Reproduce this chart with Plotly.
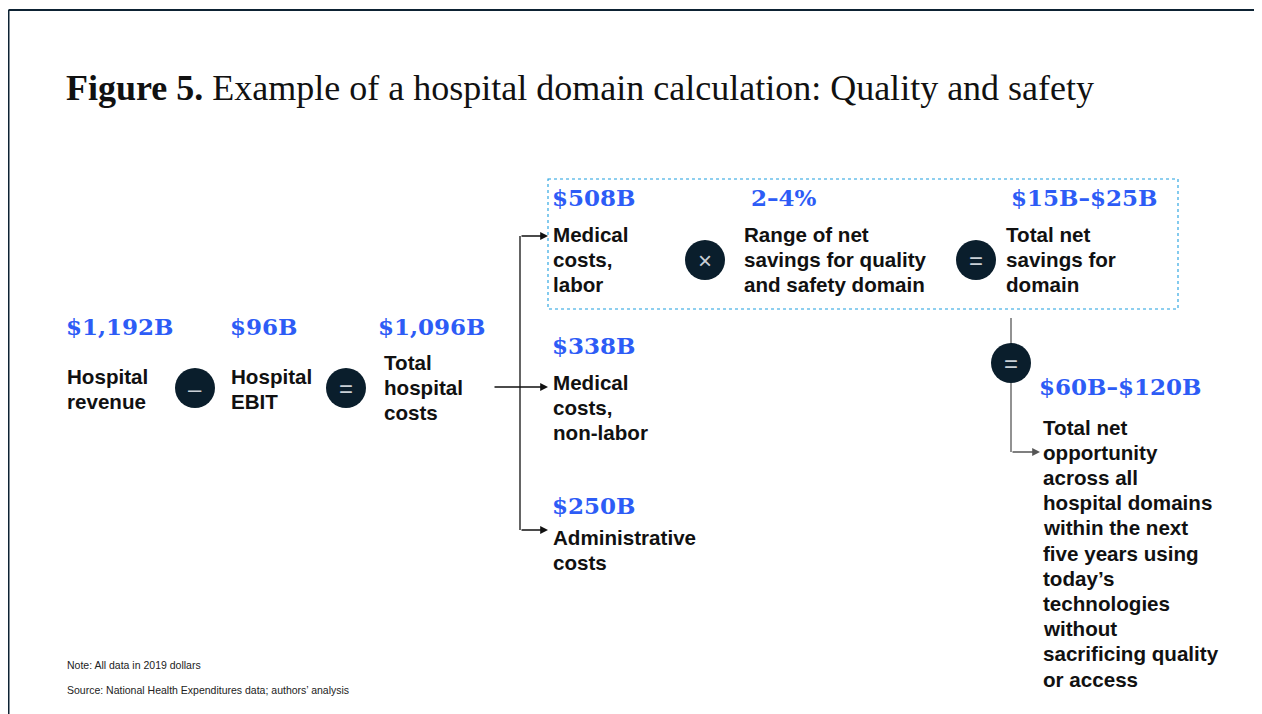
import plotly.graph_objects as go

W, H = 1262, 714
OFF = 8  # page body margin in the browser

# ---- content (data) ----
title_bold = "Figure 5."
title_rest = "Example of a hospital domain calculation: Quality and safety"

values = ["$1,192B", "$96B", "$1,096B", "$508B", "2–4%", "$15B–$25B",
          "$338B", "$250B", "$60B–$120B"]
labels = [
    ["Hospital", "revenue"],
    ["Hospital", "EBIT"],
    ["Total", "hospital", "costs"],
    ["Medical", "costs,", "labor"],
    ["Range of net", "savings for quality", "and safety domain"],
    ["Total net", "savings for", "domain"],
    ["Medical", "costs,", "non-labor"],
    ["Administrative", "costs"],
    ["Total net", "opportunity", "across all", "hospital domains", "within the next",
     "five years using", "today’s", "technologies", "without",
     "sacrificing quality", "or access"],
]
operators = ["–", "=", "×", "=", "="]
notes = ["Note: All data in 2019 dollars",
         "Source: National Health Expenditures data; authors’ analysis"]

# ---- layout (positions in page px) ----
value_pos = [(64, 326), (228, 326), (376, 326), (550, 197), (749, 197), (1009, 197),
             (550, 345), (550, 505), (1037, 386)]
label_pos = [(65, 376), (229, 376), (382, 362), (551, 234), (742, 234), (1004, 234),
             (551, 382), (551, 537), (1041, 427)]
op_pos = [(195, 388), (346, 388), (705, 260), (976, 260), (1011, 363)]
note_pos = [(65, 665), (65, 690)]
LINE = 25.2
R = 20

BLUE = "#2d5cf6"
NAVY = "#0a1e2c"
SANS = "Liberation Sans, Arial, sans-serif"
SERIF = "DejaVu Serif, serif"

fig = go.Figure()
shapes = []
ann = []

# frame
shapes.append(dict(type="line", x0=8.5, y0=10, x1=W, y1=10, line=dict(color="#0d2233", width=2)))
shapes.append(dict(type="line", x0=8.5, y0=10, x1=8.5, y1=H, line=dict(color="#0d2233", width=2)))

# dashed box
shapes.append(dict(type="rect", x0=548, y0=179, x1=1178, y1=309,
                   line=dict(color="#1fa0e0", width=1.1, dash="dot")))

# connectors
shapes.append(dict(type="line", x0=520, y0=236, x1=520, y1=530, line=dict(color="#111", width=1.3)))
shapes.append(dict(type="line", x0=1011, y0=318, x1=1011, y1=452, line=dict(color="#777", width=1.6)))

# arrows
arrows = [((493, 387), (548, 387), "#111"), ((520, 236), (548, 236), "#111"),
          ((520, 530), (548, 530), "#111"), ((1011, 452), (1040, 452), "#555")]
for (tx, ty), (hx, hy), c in arrows:
    ann.append(dict(x=hx, y=hy, ax=tx, ay=ty, xref="x", yref="y", axref="x", ayref="y",
                    showarrow=True, arrowhead=2, arrowsize=1.2, arrowwidth=1.3,
                    arrowcolor=c, text=""))

# operator circles
for (cx, cy), op in zip(op_pos, operators):
    shapes.append(dict(type="circle", x0=cx - R, y0=cy - R, x1=cx + R, y1=cy + R,
                       fillcolor=NAVY, line=dict(color=NAVY, width=0)))
    ann.append(dict(x=cx, y=cy, text=op, showarrow=False, xanchor="center", yanchor="middle",
                    font=dict(family=SANS, size=24, color="#c9d0d6")))

# title
ann.append(dict(x=64, y=88, xanchor="left", yanchor="middle", showarrow=False,
                text=f"<b>{title_bold}</b> {title_rest}",
                font=dict(family="Liberation Serif, Times New Roman, serif", size=36, color="#111")))

# values
for (x, y), v in zip(value_pos, values):
    ann.append(dict(x=x, y=y, xanchor="left", yanchor="middle", showarrow=False,
                    text=f"<b>{v}</b>", font=dict(family=SERIF, size=23, color=BLUE)))

# labels
for (x, y), lines in zip(label_pos, labels):
    for i, t in enumerate(lines):
        ann.append(dict(x=x, y=y + i * LINE, xanchor="left", yanchor="middle", showarrow=False,
                        text=f"<b>{t}</b>", font=dict(family=SANS, size=20.6, color="#111")))

# notes
for (x, y), t in zip(note_pos, notes):
    ann.append(dict(x=x, y=y, xanchor="left", yanchor="middle", showarrow=False,
                    text=t, font=dict(family=SANS, size=10.5, color="#222")))

fig.update_layout(
    width=W - OFF, height=H - OFF, margin=dict(l=0, r=0, t=0, b=0),
    paper_bgcolor="white", plot_bgcolor="white",
    xaxis=dict(range=[OFF, W], visible=False, fixedrange=True),
    yaxis=dict(range=[H, OFF], visible=False, fixedrange=True),
    shapes=shapes, annotations=ann, showlegend=False,
)
fig.write_html("out.html")
